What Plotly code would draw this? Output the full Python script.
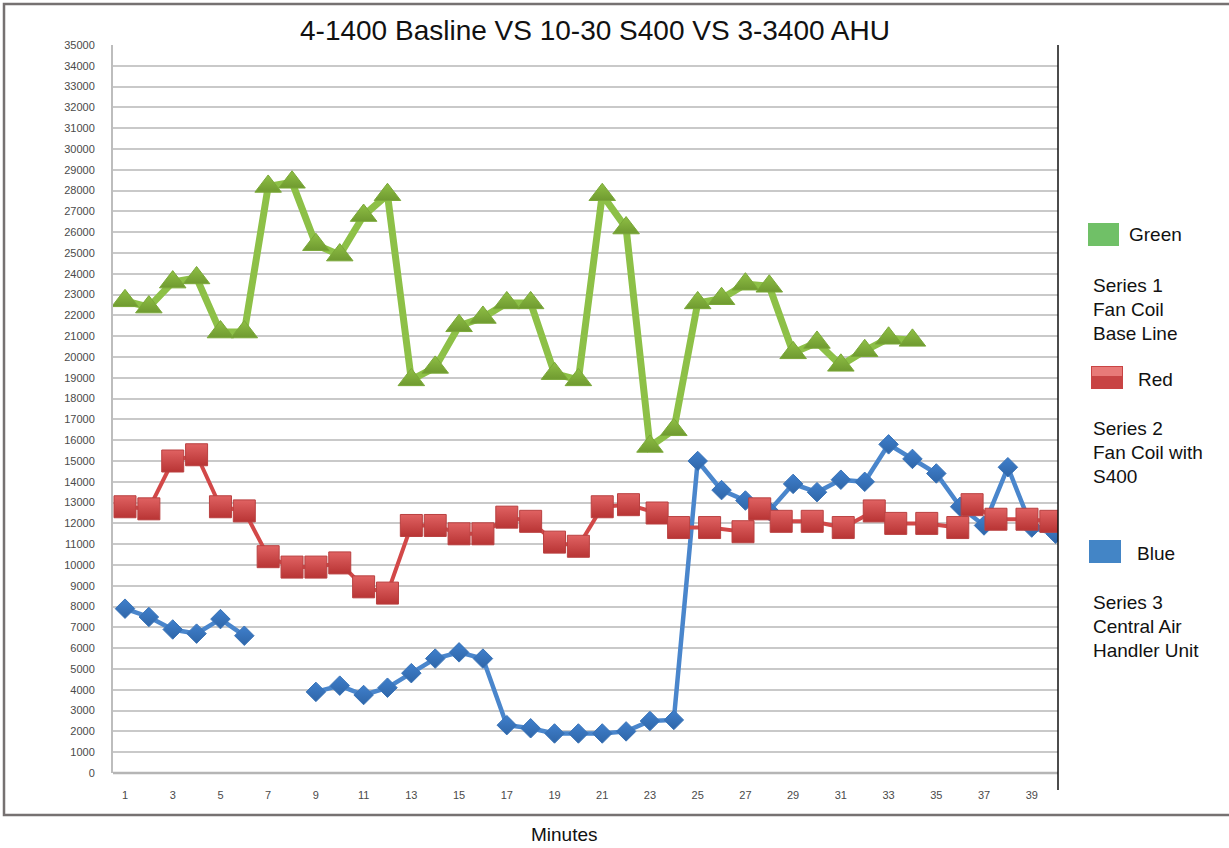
import plotly.graph_objects as go

# ---- data -------------------------------------------------------------
minutes = list(range(1, 41))

# Series 1: Fan Coil Base Line (minutes 1-34)
green_minutes = list(range(1, 35))
green_values = [22700, 22400, 23600, 23800, 21200, 21200, 28200, 28400, 25400, 24900,
                26800, 27800, 18900, 19500, 21500, 21900, 22600, 22600, 19200, 18900,
                27800, 26200, 15700, 16500, 22600, 22800, 23500, 23400, 20200, 20700,
                19600, 20300, 20900, 20800]

# Series 2: Fan Coil with S400
red_minutes = list(range(1, 21)) + [21.0, 22.1, 23.3, 24.2, 25.5, 26.9, 27.6, 28.5, 29.8,
                                    31.1, 32.4, 33.3, 34.6, 35.9, 36.5, 37.5, 38.8, 39.8]
red_values = [12800, 12700, 15000, 15300, 12800, 12600, 10400, 9900, 9900, 10100,
              8950, 8650, 11900, 11900, 11500, 11500, 12300, 12100, 11100, 10900,
              12800, 12900, 12500, 11800, 11800, 11600, 12700, 12100, 12100,
              11800, 12600, 12000, 12000, 11800, 12900, 12200, 12200, 12100]

# Series 3: Central Air Handler Unit (no readings at minutes 7-8)
blue_values = [7900, 7500, 6900, 6700, 7400, 6600, None, None, 3900, 4200,
               3750, 4100, 4800, 5500, 5800, 5500, 2300, 2150, 1900, 1900,
               1900, 2000, 2500, 2550, 15000, 13600, 13100, 12600, 13900, 13500,
               14100, 14000, 15800, 15100, 14400, 12800, 11900, 14700, 11800, 11500]

x_ticks = list(range(1, 40, 2))
y_ticks = list(range(0, 35001, 1000))

title_text = "4-1400 Basline VS 10-30 S400 VS 3-3400 AHU"
x_title = "Minutes"
legend_items = [
    ("Green", ["Series 1", "Fan Coil", "Base Line"]),
    ("Red", ["Series 2", "Fan Coil with", "S400"]),
    ("Blue", ["Series 3", "Central Air", "Handler Unit"]),
]

# ---- figure -------------------------------------------------------------
W, H = 1229, 848
L, R, T, B = 113, 1058, 45, 773


def px(x):
    return (x - L) / (R - L)


def py(y):
    return (B - y) / (B - T)


fig = go.Figure()

fig.add_trace(go.Scatter(
    x=green_minutes, y=green_values, mode="lines+markers", name="Series 1",
    line=dict(color="#8dc047", width=7),
    marker=dict(symbol="triangle-up", size=23, color="#8fbf45",
                gradient=dict(type="vertical", color="#6f9a30"),
                line=dict(color="#7aa838", width=1)),
))

fig.add_trace(go.Scatter(
    x=minutes, y=blue_values, mode="lines+markers", name="Series 3",
    connectgaps=False,
    line=dict(color="#4a86cc", width=4.5),
    marker=dict(symbol="diamond", size=15, color="#3f7fcc",
                gradient=dict(type="vertical", color="#2f66a8"),
                line=dict(color="#3a74b8", width=1)),
))

fig.add_trace(go.Scatter(
    x=red_minutes, y=red_values, mode="lines+markers", name="Series 2",
    line=dict(color="#d24848", width=4),
    marker=dict(symbol="square", size=22, color="#e06262",
                gradient=dict(type="vertical", color="#b83434"),
                line=dict(color="#b94040", width=1)),
))

tick_font = dict(family="Liberation Sans", size=11, color="#4a4a4a")

fig.update_xaxes(
    range=[0.497, 40.1], tickmode="array", tickvals=x_ticks,
    ticktext=[str(v) for v in x_ticks], tickfont=tick_font,
    showgrid=False, zeroline=False, showline=False, ticks="",
    ticklabelstandoff=14,
)
fig.update_yaxes(
    range=[0, 35000], tickmode="array", tickvals=y_ticks,
    ticktext=[str(v) for v in y_ticks], tickfont=tick_font,
    showgrid=True, gridcolor="#c9c9c9", gridwidth=2,
    zeroline=False, showline=True, linecolor="#bdbdbd", linewidth=2,
    ticks="", ticklabelstandoff=14,
)

shapes = [
    # baseline of the plot
    dict(type="line", xref="paper", yref="paper", x0=0, x1=1, y0=0, y1=0,
         line=dict(color="#b5b5b5", width=2.5)),
    # right edge of the plot area
    dict(type="line", xref="paper", yref="paper", x0=1, x1=1, y0=py(790), y1=1,
         line=dict(color="#111111", width=1.5)),
    # outer frame
    dict(type="rect", xref="paper", yref="paper", x0=px(4), x1=px(1240),
         y0=py(815), y1=py(4), line=dict(color="#767171", width=2.5),
         layer="below"),
    # legend swatches
    dict(type="rect", xref="paper", yref="paper", x0=px(1088), x1=px(1119),
         y0=py(246), y1=py(223), fillcolor="#70c067", line=dict(width=0)),
    dict(type="rect", xref="paper", yref="paper", x0=px(1091), x1=px(1123),
         y0=py(389), y1=py(366), fillcolor="#c84444", line=dict(width=0)),
    dict(type="rect", xref="paper", yref="paper", x0=px(1092), x1=px(1122),
         y0=py(376), y1=py(367), fillcolor="#e87a78", line=dict(width=0)),
    dict(type="rect", xref="paper", yref="paper", x0=px(1089), x1=px(1121),
         y0=py(563), y1=py(540), fillcolor="#4385c6", line=dict(width=0)),
]

txt_font = dict(family="Liberation Sans", size=19, color="#111111")
annotations = [
    dict(text=title_text, xref="paper", yref="paper", x=px(595), y=py(30),
         xanchor="center", yanchor="middle", showarrow=False,
         font=dict(family="Liberation Sans", size=28, color="#111111")),
    dict(text=x_title, xref="paper", yref="paper", x=px(564), y=py(835),
         xanchor="center", yanchor="middle", showarrow=False,
         font=dict(family="Liberation Sans", size=19, color="#111111")),
]

swatch_label_pos = [(1127, 235), (1136, 379), (1135, 553)]
block_tops = [285, 428, 602]
for (label, lines), (lx, ly), top in zip(legend_items, swatch_label_pos, block_tops):
    annotations.append(dict(text=label, xref="paper", yref="paper", x=px(lx), y=py(ly),
                            xanchor="left", yanchor="middle", showarrow=False,
                            font=txt_font))
    for i, line in enumerate(lines):
        annotations.append(dict(text=line, xref="paper", yref="paper", x=px(1091),
                                y=py(top + i * 24.3), xanchor="left", yanchor="middle",
                                showarrow=False, font=txt_font))

fig.update_layout(
    width=W, height=H,
    margin=dict(l=L, r=W - R, t=T, b=H - B),
    paper_bgcolor="white", plot_bgcolor="white",
    showlegend=False,
    shapes=shapes, annotations=annotations,
)

fig.write_html("out.html")
